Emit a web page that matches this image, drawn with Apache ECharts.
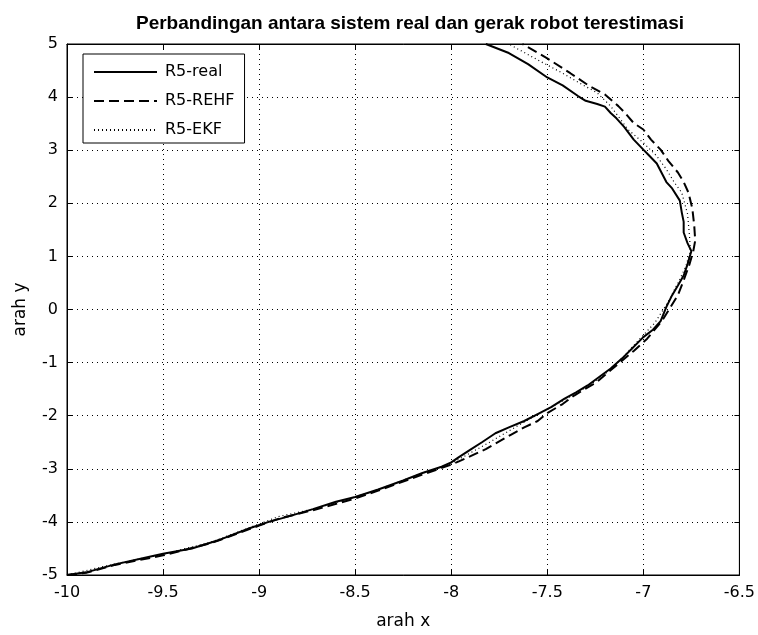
<!DOCTYPE html>
<html>
<head>
<meta charset="utf-8">
<script src="https://cdn.jsdelivr.net/npm/echarts@6/dist/echarts.min.js"></script>
<style>html,body{margin:0;padding:0;background:#fff}#c{width:758px;height:635px}</style>
</head>
<body>
<div id="c"></div>
<script>
const titleText = 'Perbandingan antara sistem real dan gerak robot terestimasi';
const xName = 'arah x';
const yName = 'arah y';
const seriesNames = ['R5-real', 'R5-REHF', 'R5-EKF'];

const realData = [[-10.00,-5.00],[-9.90,-4.95],[-9.75,-4.80],[-9.60,-4.68],[-9.50,-4.60],[-9.35,-4.50],[-9.20,-4.33],[-9.05,-4.12],[-8.95,-4.00],[-8.85,-3.90],[-8.72,-3.76],[-8.60,-3.62],[-8.50,-3.53],[-8.38,-3.39],[-8.25,-3.22],[-8.15,-3.08],[-8.05,-2.96],[-8.00,-2.88],[-7.96,-2.78],[-7.90,-2.64],[-7.84,-2.50],[-7.77,-2.33],[-7.70,-2.22],[-7.62,-2.10],[-7.55,-1.97],[-7.48,-1.84],[-7.41,-1.68],[-7.35,-1.56],[-7.29,-1.43],[-7.23,-1.27],[-7.17,-1.11],[-7.11,-0.92],[-7.06,-0.74],[-7.00,-0.52],[-6.95,-0.38],[-6.91,-0.22],[-6.88,0.05],[-6.85,0.27],[-6.82,0.45],[-6.79,0.64],[-6.77,0.85],[-6.76,0.98],[-6.75,1.10],[-6.77,1.25],[-6.79,1.45],[-6.79,1.65],[-6.80,1.83],[-6.81,2.05],[-6.85,2.28],[-6.88,2.40],[-6.93,2.75],[-6.97,2.90],[-7.00,3.01],[-7.05,3.20],[-7.10,3.44],[-7.14,3.60],[-7.17,3.70],[-7.20,3.82],[-7.24,3.87],[-7.30,3.93],[-7.34,4.02],[-7.42,4.22],[-7.50,4.37],[-7.60,4.62],[-7.70,4.83],[-7.82,5.00]];

const rehfData = [[-10.00,-5.00],[-9.90,-4.96],[-9.75,-4.81],[-9.50,-4.63],[-9.25,-4.40],[-9.00,-4.07],[-8.89,-3.93],[-8.72,-3.78],[-8.50,-3.56],[-8.38,-3.41],[-8.15,-3.11],[-8.00,-2.92],[-7.96,-2.86],[-7.82,-2.63],[-7.69,-2.36],[-7.62,-2.22],[-7.55,-2.10],[-7.50,-1.95],[-7.42,-1.78],[-7.36,-1.62],[-7.24,-1.36],[-7.12,-0.99],[-7.05,-0.78],[-6.98,-0.55],[-6.90,-0.20],[-6.82,0.27],[-6.79,0.55],[-6.76,0.85],[-6.74,1.10],[-6.73,1.30],[-6.735,1.58],[-6.745,1.90],[-6.765,2.20],[-6.79,2.40],[-6.82,2.58],[-6.87,2.80],[-6.91,3.01],[-6.96,3.20],[-7.00,3.39],[-7.05,3.51],[-7.10,3.72],[-7.13,3.83],[-7.20,4.05],[-7.29,4.23],[-7.38,4.45],[-7.50,4.73],[-7.63,5.00]];

const ekfData = [[-10.00,-5.00],[-9.75,-4.79],[-9.50,-4.61],[-9.25,-4.38],[-9.00,-4.04],[-8.90,-3.90],[-8.72,-3.76],[-8.50,-3.53],[-8.38,-3.39],[-8.15,-3.08],[-8.00,-2.90],[-7.94,-2.78],[-7.80,-2.50],[-7.65,-2.18],[-7.50,-1.88],[-7.35,-1.58],[-7.22,-1.28],[-7.12,-0.95],[-7.03,-0.60],[-6.94,-0.25],[-6.87,0.15],[-6.82,0.50],[-6.78,0.80],[-6.755,1.10],[-6.76,1.40],[-6.77,1.80],[-6.80,2.20],[-6.84,2.40],[-6.88,2.64],[-6.93,2.89],[-7.00,3.14],[-7.08,3.39],[-7.17,3.83],[-7.24,4.08],[-7.30,4.20],[-7.42,4.45],[-7.55,4.70],[-7.70,5.00]];

const xTicks = {min: -10, max: -6.5, step: 0.5};
const yTicks = {min: -5, max: 5, step: 1};

const font = "'DejaVu Sans', 'Liberation Sans', Arial, sans-serif";
const titleFont = "'Liberation Sans', Arial, Helvetica, sans-serif";
const chart = echarts.init(document.getElementById('c'), null, {renderer: 'canvas'});
const gridLine = {show: true, lineStyle: {color: '#000', width: 1, type: [1, 4]}};
const tickIn = {show: true, inside: true, length: 5, lineStyle: {color: '#000'}};
const line = {show: true, onZero: false, lineStyle: {color: '#000', width: 1}};
const fmt = v => String(Math.round(v * 10) / 10);

chart.setOption({
  animation: false,
  backgroundColor: '#fff',
  title: {
    text: titleText, left: 405, top: 9, textAlign: 'center',
    textStyle: {fontFamily: titleFont, fontWeight: 'bold', fontSize: 19, color: '#000'}
  },
  grid: {left: 67, right: 15, top: 44, bottom: 58, show: true, borderColor: '#000', borderWidth: 1, containLabel: false},
  legend: {
    left: 83, top: 54, orient: 'vertical', itemWidth: 63, itemHeight: 14, itemGap: 13,
    padding: [10, 10, 5, 10], backgroundColor: '#fff', borderColor: '#000', borderWidth: 1,
    itemStyle: {color: 'rgba(0,0,0,0)', borderWidth: 0, opacity: 0},
    textStyle: {fontFamily: font, fontSize: 16, color: '#000', padding: [0, 0, 0, 3]},
    data: seriesNames
  },
  xAxis: [{
    type: 'value', min: xTicks.min, max: xTicks.max, interval: xTicks.step,
    name: xName, nameLocation: 'middle', nameGap: 38,
    nameTextStyle: {fontFamily: font, fontSize: 17, color: '#000'},
    axisLine: line, axisTick: tickIn, splitLine: gridLine,
    axisLabel: {fontFamily: font, fontSize: 16, color: '#000', margin: 10, formatter: fmt}
  }, {
    type: 'value', position: 'top', min: xTicks.min, max: xTicks.max, interval: xTicks.step,
    axisLine: line, axisTick: tickIn, splitLine: {show: false}, axisLabel: {show: false}
  }],
  yAxis: [{
    type: 'value', min: yTicks.min, max: yTicks.max, interval: yTicks.step,
    name: yName, nameLocation: 'middle', nameGap: 38, nameRotate: 90,
    nameTextStyle: {fontFamily: font, fontSize: 17, color: '#000'},
    axisLine: line, axisTick: tickIn, splitLine: gridLine,
    axisLabel: {fontFamily: font, fontSize: 16, color: '#000', margin: 9, formatter: fmt}
  }, {
    type: 'value', position: 'right', min: yTicks.min, max: yTicks.max, interval: yTicks.step,
    axisLine: line, axisTick: tickIn, splitLine: {show: false}, axisLabel: {show: false}
  }],
  series: [
    {name: seriesNames[0], type: 'line', data: realData, showSymbol: false, symbol: 'none',
     lineStyle: {color: '#000', width: 2, type: 'solid'}, itemStyle: {color: '#000'}},
    {name: seriesNames[1], type: 'line', data: rehfData, showSymbol: false, symbol: 'none',
     lineStyle: {color: '#000', width: 2, type: [10, 5]}, itemStyle: {color: '#000'}},
    {name: seriesNames[2], type: 'line', data: ekfData, showSymbol: false, symbol: 'none',
     lineStyle: {color: '#000', width: 1.2, type: [1, 3]}, itemStyle: {color: '#000'}}
  ]
});
</script>
</body>
</html>
